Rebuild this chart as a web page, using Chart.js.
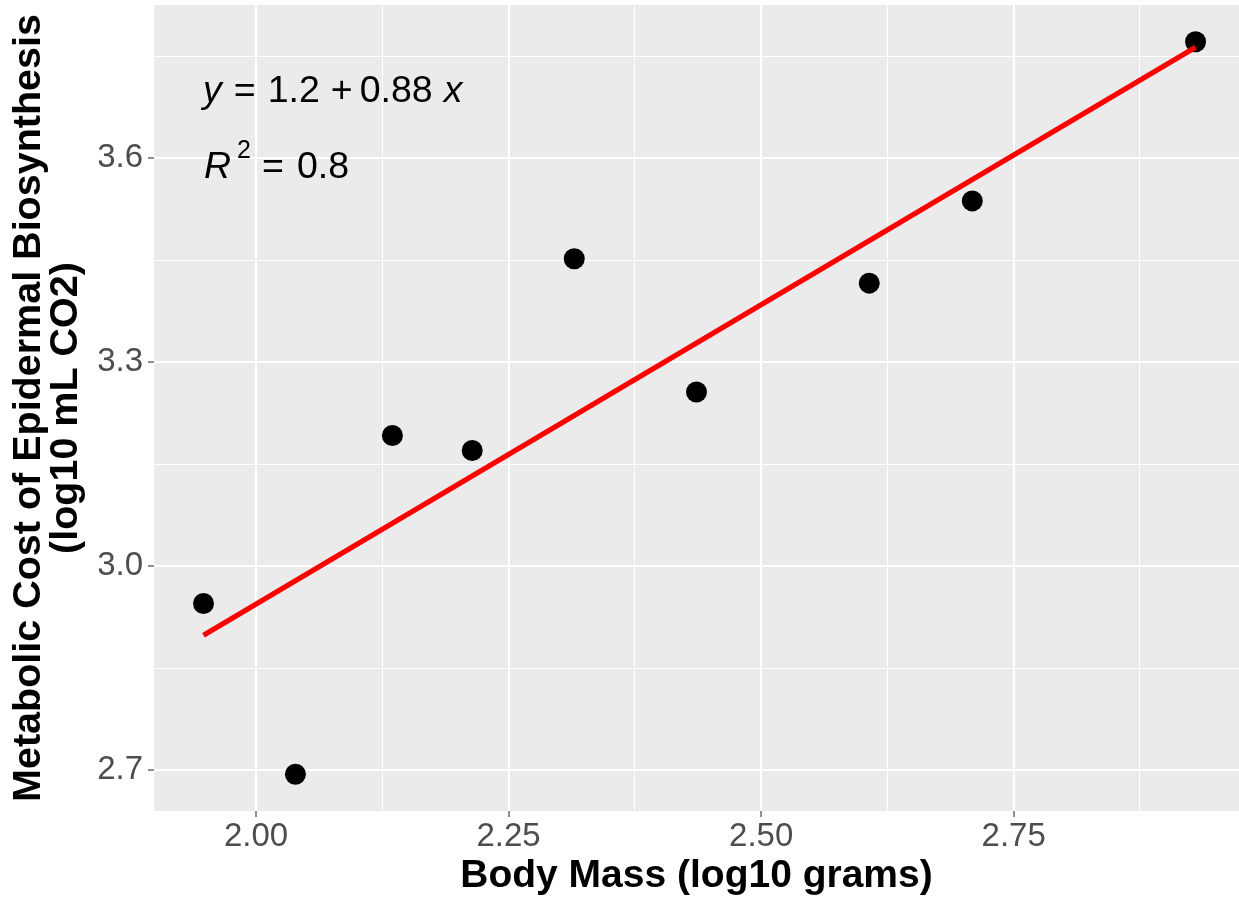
<!DOCTYPE html>
<html>
<head>
<meta charset="utf-8">
<title>Body mass vs. metabolic cost of epidermal biosynthesis</title>
<script src="https://cdn.jsdelivr.net/npm/chart.js@4/dist/chart.umd.min.js"></script>
<style>
  html, body { margin: 0; padding: 0; background: #ffffff; }
  canvas { display: block; }
</style>
</head>
<body>
<canvas id="chart" width="1239" height="900"></canvas>
<script>
// Species measurements (log10 scale)
const bodyMass      = [1.948, 2.039, 2.135, 2.214, 2.315, 2.436, 2.607, 2.709, 2.930];
const metabolicCost = [2.945, 2.694, 3.192, 3.170, 3.452, 3.256, 3.416, 3.537, 3.771];

// Axis breaks and limits
const xMajorTicks = [2.00, 2.25, 2.50, 2.75];
const xMinorTicks = [2.125, 2.375, 2.625, 2.875];
const yMajorTicks = [2.7, 3.0, 3.3, 3.6];
const yMinorTicks = [2.85, 3.15, 3.45, 3.75];
const xLimits = [1.899, 2.973];
const yLimits = [2.640, 3.825];

const xTitle = 'Body Mass (log10 grams)';
const yTitle = ['Metabolic Cost of Epidermal Biosynthesis', '(log10 mL CO2)'];

// Ordinary least squares fit of cost on mass
const n = bodyMass.length;
const meanX = bodyMass.reduce((a, b) => a + b, 0) / n;
const meanY = metabolicCost.reduce((a, b) => a + b, 0) / n;
let sxy = 0, sxx = 0, syy = 0;
for (let i = 0; i < n; i++) {
  const dx = bodyMass[i] - meanX, dy = metabolicCost[i] - meanY;
  sxy += dx * dy; sxx += dx * dx; syy += dy * dy;
}
const slope = sxy / sxx;
const intercept = meanY - slope * meanX;
const rSquared = (sxy * sxy) / (sxx * syy);
const sig2 = v => String(Number(v.toPrecision(2)));

const xMin = Math.min(...bodyMass), xMax = Math.max(...bodyMass);
const fitLine = [
  { x: xMin, y: intercept + slope * xMin },
  { x: xMax, y: intercept + slope * xMax }
];
const points = bodyMass.map((x, i) => ({ x, y: metabolicCost[i] }));

const FONT = '"Liberation Sans", Arial, Helvetica, sans-serif';
const isIn = (list, v) => list.some(m => Math.abs(m - v) < 1e-9);

// Grey panel behind the grid
const panelBackground = {
  id: 'panelBackground',
  beforeDraw(chart) {
    const { ctx, chartArea: a } = chart;
    ctx.save();
    ctx.fillStyle = '#EBEBEB';
    ctx.fillRect(a.left, a.top, a.right - a.left, a.bottom - a.top);
    ctx.restore();
  }
};

// Regression equation and R² in the upper-left of the panel
const equationLabel = {
  id: 'equationLabel',
  afterDraw(chart) {
    const { ctx, chartArea: a } = chart;
    const size = 37.5;
    const normal = `${size}px ${FONT}`;
    const italic = `italic ${size}px ${FONT}`;
    const sup = `25px ${FONT}`;
    const drawRow = (pieces, x0, baseline) => {
      let x = x0;
      for (const p of pieces) {
        x += p.gap;
        ctx.font = p.font;
        ctx.fillText(p.text, x, baseline - (p.raise || 0));
        x += ctx.measureText(p.text).width;
      }
    };
    ctx.save();
    ctx.fillStyle = '#000000';
    ctx.textBaseline = 'alphabetic';
    ctx.textAlign = 'left';
    const x0 = a.left + 49;
    drawRow([
      { text: 'y', font: italic, gap: 0 },
      { text: '=', font: normal, gap: 12 },
      { text: sig2(intercept), font: normal, gap: 12 },
      { text: '+', font: normal, gap: 11 },
      { text: sig2(slope), font: normal, gap: 7 },
      { text: 'x', font: italic, gap: 11 }
    ], x0, a.top + 97);
    drawRow([
      { text: 'R', font: italic, gap: 1 },
      { text: '2', font: sup, gap: 6, raise: 20 },
      { text: '=', font: normal, gap: 11 },
      { text: sig2(rSquared), font: normal, gap: 13 }
    ], x0, a.top + 173);
    ctx.restore();
  }
};

const tickFont = { family: FONT, size: 33, lineHeight: 1.2 };

function axisGrid(majors) {
  return {
    color: '#FFFFFF',
    lineWidth: c => (c.tick && isIn(majors, c.tick.value)) ? 2 : 1,
    drawTicks: true,
    tickLength: 6,
    tickWidth: 1.1,
    tickColor: c => (c.tick && isIn(majors, c.tick.value)) ? '#333333' : 'rgba(0,0,0,0)'
  };
}

new Chart(document.getElementById('chart'), {
  type: 'scatter',
  data: {
    datasets: [
      {
        label: 'fit',
        data: fitLine,
        showLine: true,
        borderColor: '#FF0000',
        borderWidth: 5.2,
        borderCapStyle: 'butt',
        pointRadius: 0,
        fill: false,
        order: 0
      },
      {
        label: 'species',
        data: points,
        backgroundColor: '#000000',
        borderWidth: 0,
        pointRadius: 10.5,
        pointHoverRadius: 10.5,
        order: 1
      }
    ]
  },
  options: {
    responsive: false,
    animation: false,
    devicePixelRatio: 1,
    layout: { autoPadding: false, padding: { top: 5, right: 0, bottom: 0, left: 0 } },
    plugins: { legend: { display: false }, tooltip: { enabled: false } },
    scales: {
      x: {
        type: 'linear',
        position: 'bottom',
        min: xLimits[0],
        max: xLimits[1],
        afterBuildTicks: s => { s.ticks = [...xMajorTicks, ...xMinorTicks].sort((a, b) => a - b).map(v => ({ value: v })); },
        afterFit: s => { s.height = 89; s.paddingLeft = 0; s.paddingRight = 0; },
        grid: axisGrid(xMajorTicks),
        border: { display: false },
        ticks: {
          autoSkip: false, maxRotation: 0, minRotation: 0, padding: 0,
          color: '#4D4D4D', font: tickFont,
          callback: v => isIn(xMajorTicks, v) ? v.toFixed(2) : ''
        },
        title: {
          display: true, text: xTitle, color: '#000000',
          font: { family: FONT, size: 39, weight: 'bold', lineHeight: 1.2 },
          padding: { top: 0, bottom: 0 }
        }
      },
      y: {
        type: 'linear',
        position: 'left',
        min: yLimits[0],
        max: yLimits[1],
        afterBuildTicks: s => { s.ticks = [...yMajorTicks, ...yMinorTicks].sort((a, b) => a - b).map(v => ({ value: v })); },
        afterFit: s => { s.width = 154; s.paddingTop = 0; s.paddingBottom = 0; },
        grid: axisGrid(yMajorTicks),
        border: { display: false },
        ticks: {
          autoSkip: false, padding: 5,
          color: '#4D4D4D', font: tickFont,
          callback: v => isIn(yMajorTicks, v) ? v.toFixed(1) : ''
        },
        title: {
          display: true, text: yTitle, color: '#000000',
          font: { family: FONT, size: 39.5, weight: 'bold', lineHeight: 0.93 },
          padding: { top: 11, bottom: 0 }
        }
      }
    }
  },
  plugins: [panelBackground, equationLabel]
});
</script>
</body>
</html>
